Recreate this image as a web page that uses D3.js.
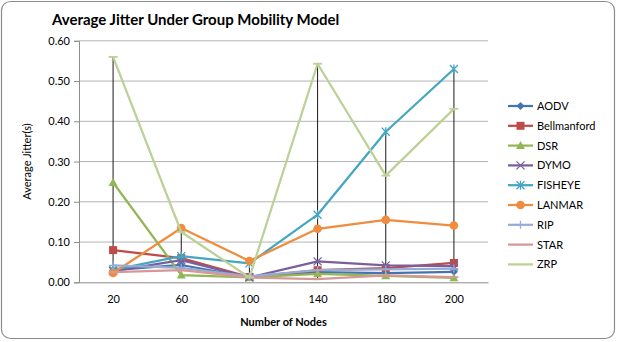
<!DOCTYPE html>
<html>
<head>
<meta charset="utf-8">
<script src="https://cdn.jsdelivr.net/npm/d3@7"></script>
<style>
  body { margin: 0; background: #fff; }
  text { font-family: Lato, "Liberation Sans", sans-serif; fill: #000; }
</style>
</head>
<body>
<div id="chart"></div>
<script>
var nodes = ["20", "60", "100", "140", "180", "200"];
var protocols = ["AODV", "Bellmanford", "DSR", "DYMO", "FISHEYE", "LANMAR", "RIP", "STAR", "ZRP"];

var aodv        = [0.030, 0.043, 0.012, 0.025, 0.023, 0.026];
var bellmanford = [0.080, 0.060, 0.013, 0.030, 0.035, 0.048];
var dsr         = [0.248, 0.018, 0.012, 0.021, 0.016, 0.011];
var dymo        = [0.028, 0.055, 0.012, 0.052, 0.042, 0.040];
var fisheye     = [0.031, 0.065, 0.047, 0.168, 0.374, 0.530];
var lanmar      = [0.023, 0.135, 0.053, 0.133, 0.155, 0.141];
var rip         = [0.042, 0.036, 0.015, 0.030, 0.032, 0.034];
var star        = [0.025, 0.030, 0.012, 0.008, 0.017, 0.013];
var zrp         = [0.560, 0.125, 0.012, 0.543, 0.265, 0.431];

var yTicks = [0, 0.1, 0.2, 0.3, 0.4, 0.5, 0.6];

var colors = ["#4473B0", "#BE4B48", "#93B655", "#7A5F9E", "#45A6C2", "#F08C3E", "#98ABD3", "#D69896", "#BCD097"];
var shapes = ["diamond", "square", "triangle", "x", "star", "circle", "plus", "dash", "dash"];

var series = [aodv, bellmanford, dsr, dymo, fisheye, lanmar, rip, star, zrp].map(function (v, i) {
  return { name: protocols[i], values: v, color: colors[i], shape: shapes[i] };
});

var width = 617, height = 342;
var margin = { top: 40.8, left: 79, right: 129, bottom: 59.7 };

var svg = d3.select("#chart").append("svg")
  .attr("width", width).attr("height", height);

svg.append("rect")
  .attr("x", 1.5).attr("y", 1.5)
  .attr("width", width - 4).attr("height", height - 5)
  .attr("rx", 9)
  .attr("fill", "#fff").attr("stroke", "#8c8c8c").attr("stroke-width", 1.2);

var x = d3.scalePoint().domain(nodes)
  .range([margin.left, width - margin.right]).padding(0.5);
var y = d3.scaleLinear().domain([0, 0.6])
  .range([height - margin.bottom, margin.top]);

// gridlines
svg.append("g").selectAll("line")
  .data(yTicks.slice(1))
  .join("line")
  .attr("x1", margin.left).attr("x2", width - margin.right)
  .attr("y1", function (d) { return y(d); }).attr("y2", function (d) { return y(d); })
  .attr("stroke", "#b4b4b4").attr("stroke-width", 1);

// y axis
var yAxis = svg.append("g")
  .attr("transform", "translate(" + margin.left + ",0)")
  .call(d3.axisLeft(y).tickValues(yTicks).tickFormat(d3.format(".2f")).tickSize(5).tickPadding(4));
yAxis.select(".domain").attr("stroke", "#8c8c8c");
yAxis.selectAll(".tick line").attr("stroke", "#8c8c8c");
yAxis.selectAll("text").style("font-size", "11px").attr("fill", "#222");

// x axis
var xAxis = svg.append("g")
  .attr("transform", "translate(0," + (height - margin.bottom) + ")")
  .call(d3.axisBottom(x).tickSize(0).tickPadding(13));
xAxis.select(".domain").attr("stroke", "#8c8c8c");
xAxis.selectAll("text").style("font-size", "11px").attr("fill", "#222");

// high-low lines
svg.append("g").selectAll("line")
  .data(nodes)
  .join("line")
  .attr("x1", function (d) { return x(d); }).attr("x2", function (d) { return x(d); })
  .attr("y1", function (d, i) { return y(d3.max(series, function (s) { return s.values[i]; })); })
  .attr("y2", function (d, i) { return y(d3.min(series, function (s) { return s.values[i]; })); })
  .attr("stroke", "#1a1a1a").attr("stroke-width", 1);

var line = d3.line()
  .x(function (d, i) { return x(nodes[i]); })
  .y(function (d) { return y(d); });

function drawMarker(g, shape, color) {
  if (shape === "diamond") {
    g.append("path").attr("d", "M0,-4L4,0L0,4L-4,0Z").attr("fill", color);
  } else if (shape === "square") {
    g.append("rect").attr("x", -4).attr("y", -4).attr("width", 8).attr("height", 8).attr("fill", color);
  } else if (shape === "triangle") {
    g.append("path").attr("d", "M0,-4.5L4.5,3.5L-4.5,3.5Z").attr("fill", color);
  } else if (shape === "circle") {
    g.append("circle").attr("r", 4.3).attr("fill", color);
  } else if (shape === "x") {
    g.append("path").attr("d", "M-4,-4L4,4M-4,4L4,-4").attr("stroke", color).attr("stroke-width", 1.3);
  } else if (shape === "star") {
    g.append("path").attr("d", "M-4,-4L4,4M-4,4L4,-4M0,-4.5L0,4.5").attr("stroke", color).attr("stroke-width", 1.3);
  } else if (shape === "plus") {
    g.append("path").attr("d", "M-4,0L4,0M0,-4L0,4").attr("stroke", color).attr("stroke-width", 1.3);
  } else if (shape === "dash") {
    g.append("path").attr("d", "M-4.5,0L4.5,0").attr("stroke", color).attr("stroke-width", 1.8);
  }
}

var sg = svg.append("g").selectAll("g")
  .data(series)
  .join("g");

sg.append("path")
  .attr("d", function (s) { return line(s.values); })
  .attr("fill", "none")
  .attr("stroke", function (s) { return s.color; })
  .attr("stroke-width", 2.25)
  .attr("stroke-linejoin", "round");

sg.each(function (s) {
  var g = d3.select(this);
  s.values.forEach(function (v, i) {
    var m = g.append("g").attr("transform", "translate(" + x(nodes[i]) + "," + y(v) + ")");
    drawMarker(m, s.shape, s.color);
  });
});

// legend
var legend = svg.append("g").selectAll("g")
  .data(series)
  .join("g")
  .attr("transform", function (d, i) { return "translate(508," + (106 + i * 19.8) + ")"; });

legend.append("line")
  .attr("x1", 0).attr("x2", 25)
  .attr("stroke", function (d) { return d.color; })
  .attr("stroke-width", 2.25);
legend.each(function (s) {
  var m = d3.select(this).append("g").attr("transform", "translate(12.5,0)");
  if (s.shape !== "dash") drawMarker(m, s.shape, s.color);
});
legend.append("text")
  .attr("x", 29).attr("y", 4)
  .style("font-size", "11px")
  .attr("fill", "#222")
  .text(function (d) { return d.name; });

// titles
svg.append("text")
  .attr("x", 52).attr("y", 25)
  .style("font-size", "15px").style("font-weight", "bold")
  .text("Average Jitter Under Group Mobility Model");

svg.append("text")
  .attr("x", (margin.left + width - margin.right) / 2).attr("y", 326)
  .attr("text-anchor", "middle")
  .style("font-size", "11px").style("font-weight", "bold")
  .text("Number of Nodes");

svg.append("text")
  .attr("transform", "translate(31," + ((margin.top + height - margin.bottom) / 2) + ") rotate(-90)")
  .attr("text-anchor", "middle")
  .style("font-size", "11px")
  .text("Average Jitter(s)");
</script>
</body>
</html>
